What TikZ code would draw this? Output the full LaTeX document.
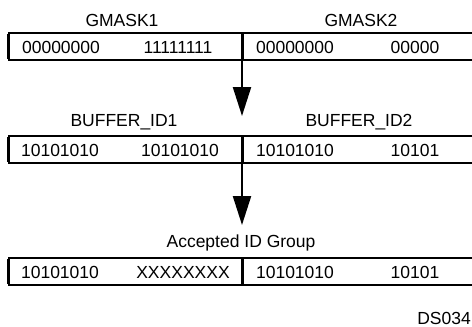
\documentclass[tikz,border=0pt]{standalone}
\usepackage{fontspec}
\setmainfont{Liberation Sans}
\usetikzlibrary{arrows.meta}
\begin{document}
\begin{tikzpicture}[x=1pt,y=-1pt,
  txt/.style={font=\fontsize{17.5}{19}\selectfont, inner sep=0pt, anchor=center},
  frame/.style={line width=2pt},
  edgeline/.style={line width=3pt},
  flow/.style={line width=2.2pt, -{Triangle[length=29pt,width=18pt]}}]
\useasboundingbox (0,0) rectangle (472,327);
% ---- row 1
\coordinate (r1tl) at (8,33);
\coordinate (r1bl) at (8,60);
\coordinate (r1tr) at (480,33);
\coordinate (r1br) at (480,60);
\coordinate (r1dt) at (242,33);
\coordinate (r1db) at (242,60);
\draw[frame] (r1tl) -- (r1tr);
\draw[frame] (r1bl) -- (r1br);
\draw[edgeline] ([yshift=-1pt]r1tl) -- ([yshift=1pt]r1bl);
\draw[edgeline] (r1dt) -- (r1db);
\node[txt] (gm1) at (122,20) {GMASK1};
\node[txt] (gm2) at (361,20) {GMASK2};
\node[txt] (a1) at (61,47) {00000000};
\node[txt] (a2) at (178,47) {11111111};
\node[txt] (a3) at (295,47) {00000000};
\node[txt] (a4) at (415,47) {00000};
% ---- row 2
\coordinate (r2tl) at (8,136);
\coordinate (r2bl) at (8,163);
\coordinate (r2tr) at (480,136);
\coordinate (r2br) at (480,163);
\coordinate (r2dt) at (242,136);
\coordinate (r2db) at (242,163);
\draw[frame] (r2tl) -- (r2tr);
\draw[frame] (r2bl) -- (r2br);
\draw[edgeline] ([yshift=-1pt]r2tl) -- ([yshift=1pt]r2bl);
\draw[edgeline] (r2dt) -- (r2db);
\node[txt] (b1) at (124,122) {BUFFER\_ID1};
\node[txt] (b2) at (359,122) {BUFFER\_ID2};
\node[txt] (c1) at (60,150) {10101010};
\node[txt] (c2) at (180,150) {10101010};
\node[txt] (c3) at (295,150) {10101010};
\node[txt] (c4) at (415,150) {10101};
% ---- row 3
\coordinate (r3tl) at (8,258);
\coordinate (r3bl) at (8,285);
\coordinate (r3tr) at (480,258);
\coordinate (r3br) at (480,285);
\coordinate (r3dt) at (242,258);
\coordinate (r3db) at (242,285);
\draw[frame] (r3tl) -- (r3tr);
\draw[frame] (r3bl) -- (r3br);
\draw[edgeline] ([yshift=-1pt]r3tl) -- ([yshift=1pt]r3bl);
\draw[edgeline] (r3dt) -- (r3db);
\node[txt] (acc) at (241,243) {Accepted ID Group};
\node[txt] (d1) at (60,272) {10101010};
\node[txt] (d2) at (183,272) {XXXXXXXX};
\node[txt] (d3) at (295,272) {10101010};
\node[txt] (d4) at (415,272) {10101};
% ---- arrows
\coordinate (t1) at (242,116);
\coordinate (t2) at (242,225);
\draw[flow] (r1db) -- (t1);
\draw[flow] (r2db) -- (t2);
% ---- tag
\node[txt, anchor=east] (ds) at (471,318) {DS034};
\end{tikzpicture}
\end{document}
